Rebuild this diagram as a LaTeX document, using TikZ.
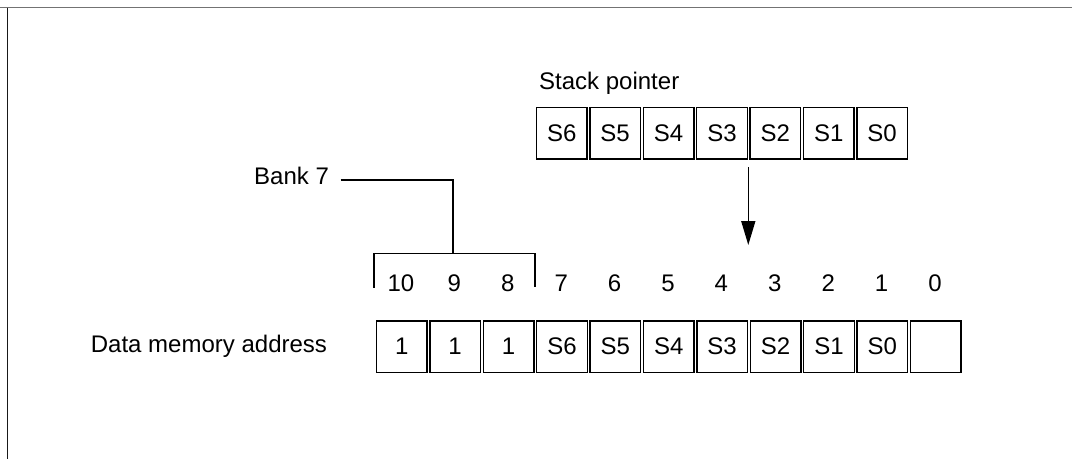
\documentclass[tikz,border=0pt]{standalone}
\usepackage{fontspec}
\setmainfont{Liberation Sans}
\usetikzlibrary{arrows.meta}
\begin{document}
\begin{tikzpicture}[x=1pt,y=-1pt,
  txt/.style={inner sep=0pt, font=\fontsize{24}{28}\selectfont},
  cell/.style={txt, draw, line width=1.5pt, minimum width=50.6pt,
    minimum height=51.6pt, anchor=north west},
  wire/.style={line width=1.9pt},
  pointer/.style={line width=1.5pt, -{Triangle[length=24pt,width=14pt]}}]
\useasboundingbox (0,0) rectangle (1072,459);
% frame edges
\draw[line width=1.5pt, black!55] (0,7.5) -- (1072,7.5);
\draw[line width=1.6pt, black!90] (7.5,7.5) -- (7.5,459);

% stack pointer register
\node[txt, anchor=base west] (splabel) at (539,89) {Stack pointer};
\foreach \i/\b in {0/6,1/5,2/4,3/3,4/2,5/1,6/0}
  \node[cell] (sp\b) at ({535.7+\i*53.4},106.7) {S\b};

% data memory address register
\node[txt, anchor=base west] (dmlabel) at (90.7,352.3) {Data memory address};
\foreach \i/\t in {0/1,1/1,2/1,3/S6,4/S5,5/S4,6/S3,7/S2,8/S1,9/S0,10/{}}{
  \pgfmathtruncatemacro{\b}{10-\i}
  \node[cell] (d\b) at ({375.7+\i*53.4},320.1) {\t};
  \node[txt, anchor=base] (n\b) at ({375.7+\i*53.4+25.3},291.5) {\b};
}

% bank bracket
\node[txt, anchor=base west] (bank) at (254,184.5) {Bank 7};
\coordinate (bankend) at (340.7,180);
\coordinate (brL) at (374,253.3);
\coordinate (brM) at (453,253.3);
\coordinate (brR) at (534.8,253.3);
\draw[wire] (bankend) -| (brM);
\draw[line width=1.4pt] (brL |- n10.base) ++(0,-4) -- (brL) -- (brR) -- ++(0,34);

% stack pointer feeds address bits 7..1
\coordinate (atop) at (748.3,167);
\coordinate (atip) at (748.3,245);
\draw[pointer] (atop) -- (atip);
\end{tikzpicture}
\end{document}
